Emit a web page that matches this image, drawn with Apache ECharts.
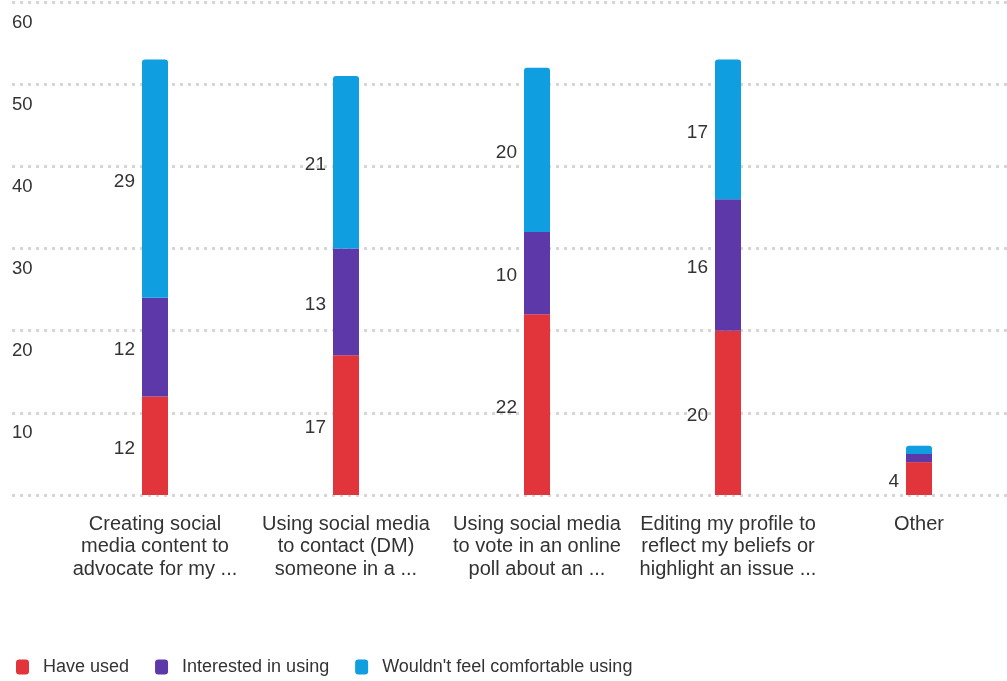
<!DOCTYPE html>
<html><head><meta charset="utf-8">
<script src="https://cdn.jsdelivr.net/npm/echarts@6/dist/echarts.min.js"></script>
<style>html,body{margin:0;padding:0;background:#fff}#c{width:1007px;height:681px}</style>
</head><body><div id="c"></div>
<script>
const categories = [
  "Creating social\nmedia content to\nadvocate for my ...",
  "Using social media\nto contact (DM)\nsomeone in a ...",
  "Using social media\nto vote in an online\npoll about an ...",
  "Editing my profile to\nreflect my beliefs or\nhighlight an issue ...",
  "Other"
];
const haveUsed = [12, 17, 22, 20, 4];
const interested = [12, 13, 10, 16, 1];
const notComfortable = [29, 21, 20, 17, 1];
const seriesNames = ["Have used", "Interested in using", "Wouldn't feel comfortable using"];
const colors = ["#e2353b", "#5c38a8", "#0f9ee0"];
const yMin = 0, yMax = 60, yStep = 10;

const font = "Liberation Sans, Arial, sans-serif";
const chart = echarts.init(document.getElementById('c'));
const lbl = {
  show: true, position: 'left', distance: 7, color: '#333', fontSize: 19, fontFamily: font,
  offset: [0, 3],
  formatter: p => (p.value >= 3 ? String(p.value) : '')
};
const mk = (name, data, i, top) => ({
  name, type: 'bar', stack: 'total', xAxisIndex: 1, yAxisIndex: 1,
  data, barWidth: 26, label: lbl,
  itemStyle: { color: colors[i], borderRadius: top ? [3,3,0,0] : 0 },
  emphasis: { disabled: true }
});
chart.setOption({
  animation: false,
  textStyle: { fontFamily: font },
  legend: {
    left: 11, top: 653, icon: 'roundRect', itemWidth: 13, itemHeight: 15, itemGap: 26,
    textStyle: { fontSize: 18, color: '#333', fontFamily: font, padding: [0, 0, 0, 9] },
    data: seriesNames
  },
  grid: [
    { left: 12, right: 0, top: 2, bottom: 186, outerBoundsMode: 'none' },
    { left: 59.5, width: 955, top: 2, bottom: 186, outerBoundsMode: 'none', containLabel: false }
  ],
  xAxis: [
    { gridIndex: 0, type: 'value', show: false, min: 0, max: 1 },
    { gridIndex: 1, type: 'category', data: categories,
      axisLine: { show: false }, axisTick: { show: false },
      axisLabel: { margin: 18, fontSize: 20, lineHeight: 22.5, color: '#333', fontFamily: font, interval: 0, verticalAlign: 'top' } }
  ],
  yAxis: [
    { gridIndex: 0, type: 'value', min: yMin, max: yMax, interval: yStep,
      axisLine: { show: false }, axisTick: { show: false },
      splitLine: { lineStyle: { color: '#d6d6d6', width: 3, type: [3, 5] } },
      axisLabel: { inside: true, margin: 0, showMinLabel: false, verticalAlign: 'top', padding: [11,0,0,0],
        fontSize: 18.5, color: '#333', fontFamily: font } },
    { gridIndex: 1, type: 'value', min: yMin, max: yMax, interval: yStep, show: false, splitLine: { show: false } }
  ],
  series: [
    mk(seriesNames[0], haveUsed, 0, false),
    mk(seriesNames[1], interested, 1, false),
    mk(seriesNames[2], notComfortable, 2, true)
  ]
});
</script></body></html>
